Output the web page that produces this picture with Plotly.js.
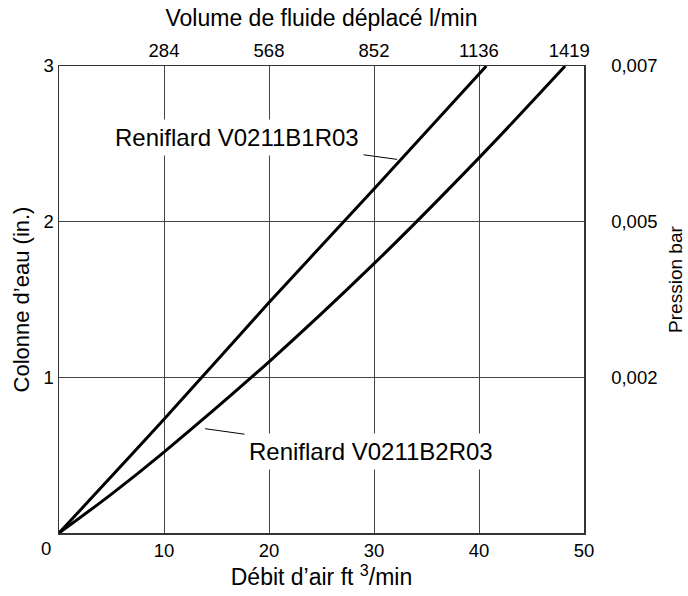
<!DOCTYPE html>
<html>
<head>
<meta charset="utf-8">
<script src="https://cdn.plot.ly/plotly-3.0.1.min.js"></script>
<style>html,body{margin:0;padding:0;background:#fff;}#chart{width:688px;height:596px;}</style>
</head>
<body>
<div id="chart"></div>
<script>
// Débit d'air (ft3/min) vs colonne d'eau (in.)
const b1rX = [0, 10, 20, 30, 40.7];
const b1rY = [0, 0.73, 1.48, 2.21, 3.0];
const b2rX = [0, 5, 10, 20, 30, 40, 48.2];
const b2rY = [0, 0.25, 0.52, 1.10, 1.73, 2.41, 3.0];

const xTicks = [10, 20, 30, 40, 50];
const yTicks = [1, 2, 3];
const topTickVals = [10, 20, 30, 40, 48.6];
const topTickText = ['284', '568', '852', '1136', '1419'];
const rightTickText = ['0,002', '0,005', '0,007'];

const FONT = 'Liberation Sans, Arial, sans-serif';

const traces = [
  {x: b1rX, y: b1rY, mode: 'lines', line: {color: '#000', width: 3, shape: 'spline'}, hoverinfo: 'skip', showlegend: false},
  {x: b2rX, y: b2rY, mode: 'lines', line: {color: '#000', width: 3, shape: 'spline'}, hoverinfo: 'skip', showlegend: false},
  {x: [0], y: [0], xaxis: 'x2', yaxis: 'y2', mode: 'markers', marker: {opacity: 0}, hoverinfo: 'skip', showlegend: false}
];

const axisCommon = {
  showline: true, linecolor: '#333', linewidth: 1.5, mirror: false,
  ticks: '', zeroline: false, tickfont: {family: FONT, size: 18.5, color: '#000'}
};

const layout = {
  width: 688, height: 596,
  margin: {l: 59, r: 104, t: 66, b: 63},
  paper_bgcolor: '#fff', plot_bgcolor: '#fff',
  font: {family: FONT, color: '#000'},
  xaxis: Object.assign({}, axisCommon, {
    range: [0, 50], tickvals: xTicks, showgrid: true, gridcolor: '#444', gridwidth: 1,
    title: {text: 'Débit d’air ft <sup>3</sup>/min', font: {family: FONT, size: 23}, standoff: 6}
  }),
  xaxis2: Object.assign({}, axisCommon, {
    overlaying: 'x', side: 'top', range: [0, 50], tickvals: topTickVals, ticktext: topTickText, showgrid: false,
    title: {text: 'Volume de fluide déplacé l/min', font: {family: FONT, size: 23}, standoff: 7}
  }),
  yaxis: Object.assign({}, axisCommon, {
    range: [0, 3], tickvals: yTicks, showgrid: true, gridcolor: '#444', gridwidth: 1,
    title: {text: 'Colonne d’eau (in.)', font: {family: FONT, size: 22}, standoff: 8}
  }),
  yaxis2: Object.assign({}, axisCommon, {
    overlaying: 'y', side: 'right', range: [0, 3], tickvals: yTicks, ticktext: rightTickText, showgrid: false,
    ticklabelstandoff: 22
  }),
  annotations: [
    {xref: 'paper', yref: 'paper', x: 0, y: 0, text: '0', showarrow: false, xanchor: 'center', yanchor: 'middle',
     xshift: -13, yshift: -15, font: {family: FONT, size: 18.5}},
    {xref: 'paper', yref: 'paper', x: 1, y: 0.542, text: 'Pression bar', showarrow: false, textangle: -90,
     xanchor: 'center', yanchor: 'middle', xshift: 92, font: {family: FONT, size: 19}},
    {x: 32.2, y: 2.40, text: 'Reniflard V0211B1R03', showarrow: true, arrowhead: 0, arrowwidth: 1, arrowcolor: '#000',
     ax: -160, ay: -22, bgcolor: '#fff', borderpad: 4, font: {family: FONT, size: 24}},
    {x: 13.9, y: 0.67, text: 'Reniflard V0211B2R03', showarrow: true, arrowhead: 0, arrowwidth: 1, arrowcolor: '#000',
     ax: 166, ay: 23, bgcolor: '#fff', borderpad: 4, font: {family: FONT, size: 24}}
  ]
};

Plotly.newPlot('chart', traces, layout, {staticPlot: true, displayModeBar: false});
</script>
</body>
</html>
